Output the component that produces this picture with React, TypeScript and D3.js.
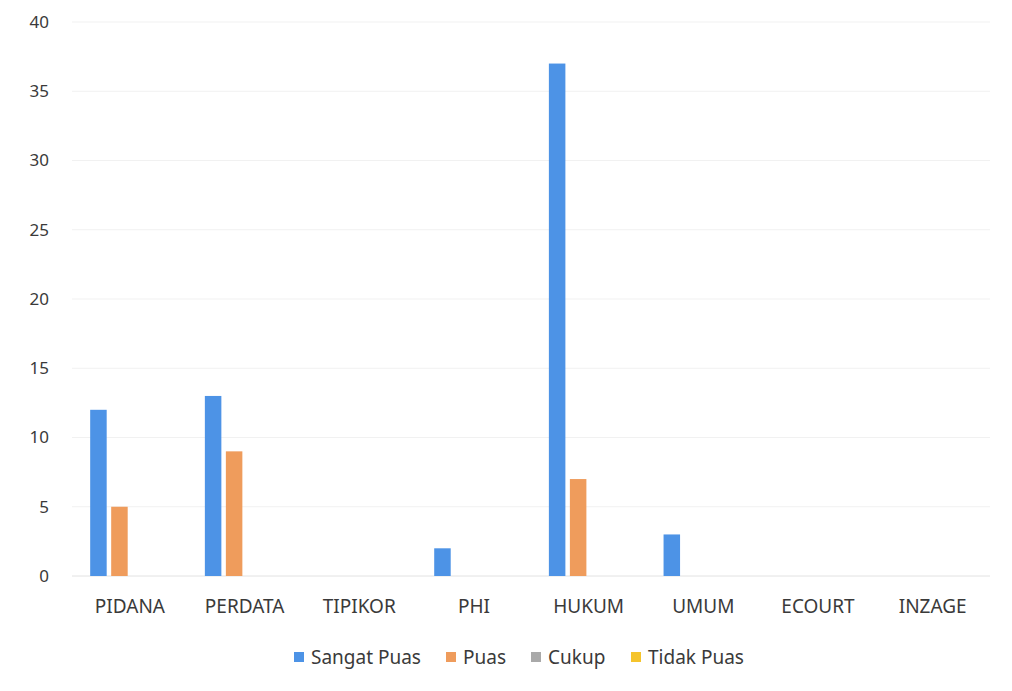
import React from "react";
import * as d3 from "d3";

const categories = ["PIDANA", "PERDATA", "TIPIKOR", "PHI", "HUKUM", "UMUM", "ECOURT", "INZAGE"];
const seriesNames = ["Sangat Puas", "Puas", "Cukup", "Tidak Puas"];
const sangatPuas = [12, 13, 0, 2, 37, 3, 0, 0];
const puas = [5, 9, 0, 0, 7, 0, 0, 0];
const cukup = [0, 0, 0, 0, 0, 0, 0, 0];
const tidakPuas = [0, 0, 0, 0, 0, 0, 0, 0];
const yTicks = [0, 5, 10, 15, 20, 25, 30, 35, 40];

const seriesValues = [sangatPuas, puas, cukup, tidakPuas];
const colors = ["#4d93e6", "#ef9c5c", "#a9a9a9", "#f5c42c"];

const W = 1012;
const H = 691;
const FONT = "'Noto Sans', 'Open Sans', sans-serif";

export default function App() {
  const x0 = d3.scaleBand<string>().domain(categories).range([72.6, 990]);
  const x1 = d3
    .scaleBand<string>()
    .domain(seriesNames)
    .range([0, x0.bandwidth()])
    .paddingInner(0.214)
    .paddingOuter(0.837);
  const y = d3.scaleLinear().domain([0, 40]).range([576, 22]);

  // legend layout
  const legendItems = [
    { x: 294, text: seriesNames[0] },
    { x: 446, text: seriesNames[1] },
    { x: 531, text: seriesNames[2] },
    { x: 631, text: seriesNames[3] },
  ];

  return (
    <svg
      width={W}
      height={H}
      style={{ position: "absolute", left: 0, top: 0, background: "#fff" }}
      fontFamily={FONT}
    >
      {/* grid */}
      {yTicks.map((t) => (
        <line
          key={"g" + t}
          x1={72}
          x2={990}
          y1={y(t)}
          y2={y(t)}
          stroke={t === 0 ? "#e2e2e2" : "#f1f1f1"}
          strokeWidth={1}
        />
      ))}
      {/* y tick labels */}
      {yTicks.map((t) => (
        <text
          key={"t" + t}
          x={49}
          y={y(t)}
          dy="0.35em"
          textAnchor="end"
          fontSize={17}
          fill="#3a3a3a"
        >
          {t}
        </text>
      ))}
      {/* bars */}
      {categories.map((c, ci) => (
        <g key={c} transform={`translate(${x0(c)},0)`}>
          {seriesNames.map((s, si) => {
            const v = seriesValues[si][ci];
            if (!v) return null;
            return (
              <rect
                key={s}
                x={x1(s)}
                y={y(v)}
                width={x1.bandwidth()}
                height={y(0) - y(v)}
                fill={colors[si]}
              />
            );
          })}
        </g>
      ))}
      {/* category labels */}
      {categories.map((c) => (
        <text
          key={"c" + c}
          x={(x0(c) as number) + x0.bandwidth() / 2}
          y={606}
          dy="0.35em"
          textAnchor="middle"
          fontSize={19}
          fill="#3a3a3a"
        >
          {c}
        </text>
      ))}
      {/* legend */}
      {legendItems.map((it, i) => (
        <g key={"l" + i}>
          <rect x={it.x} y={652} width={10} height={10} fill={colors[i]} />
          <text x={it.x + 17} y={657} dy="0.35em" fontSize={19} fill="#3a3a3a">
            {it.text}
          </text>
        </g>
      ))}
    </svg>
  );
}
